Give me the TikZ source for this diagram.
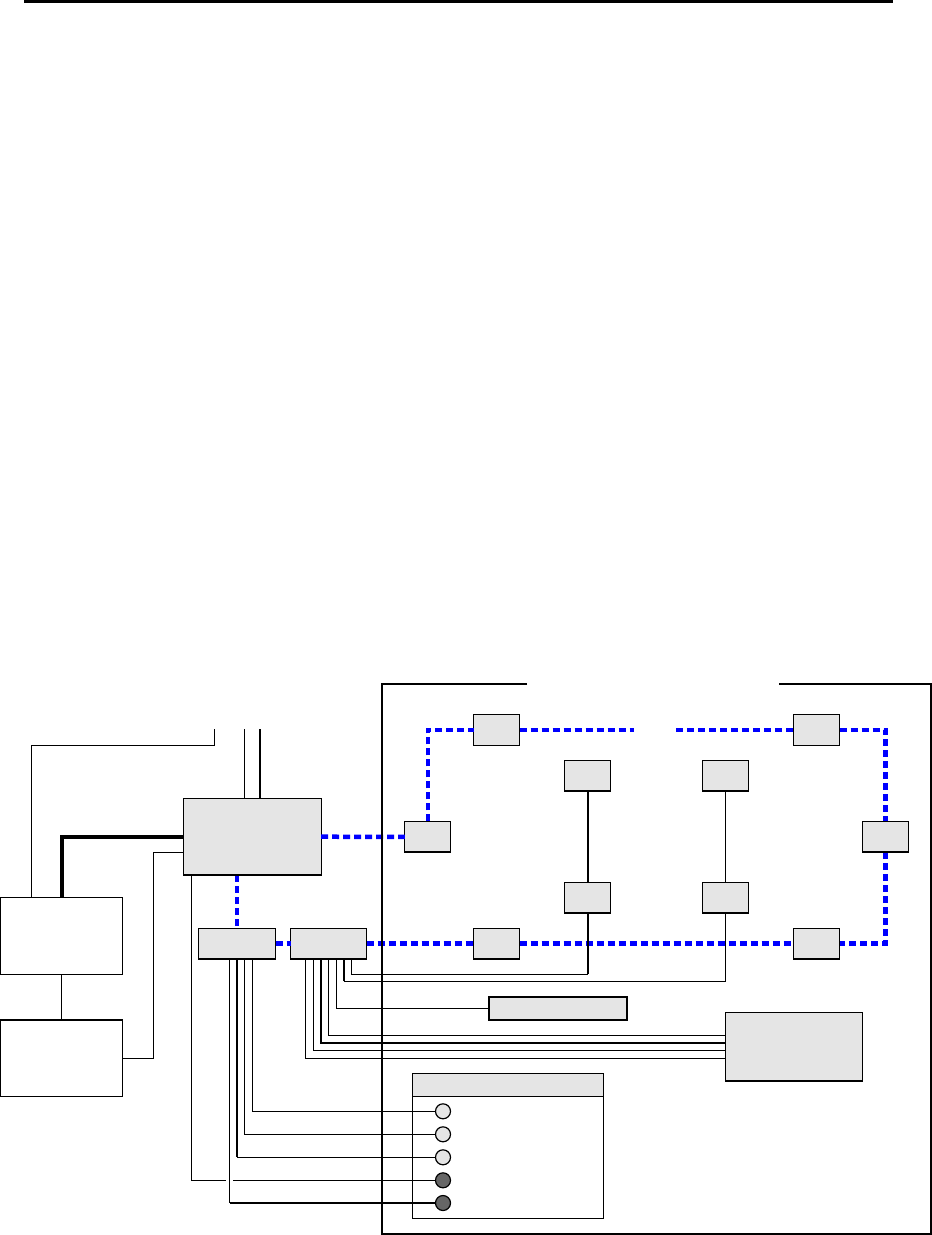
\documentclass[tikz,border=0pt]{standalone}
\usepackage{tikz}
\definecolor{busblue}{RGB}{0,0,255}
\begin{document}
\begin{tikzpicture}[x=1pt, y=-1pt, line join=miter,
    unit/.style={draw, fill=black!10, line width=1pt, inner sep=0pt, outer sep=0pt},
    hub/.style={unit, minimum width=46, minimum height=31},
    plain/.style={draw, line width=1pt, inner sep=0pt, outer sep=0pt, minimum width=122, minimum height=77},
    lamp/.style={circle, draw, line width=1.2pt, inner sep=0pt, outer sep=0pt, minimum size=15},
    wire/.style={line width=1pt},
    heavy/.style={line width=2pt},
    bus/.style={busblue, line width=4.5pt, dash pattern=on 7pt off 4pt}]
  \useasboundingbox (0,0) rectangle (932,1235);

  % ---------- page rule ----------
  \coordinate (ruleL) at (24,1.5);
  \coordinate (ruleR) at (893,1.5);
  \draw[line width=3pt] (ruleL) -- (ruleR);

  % ---------- outside the frame ----------
  \node[plain] (upper) at (61.5,935.8) {};
  \node[plain] (lower) at (61.5,1058.2) {};
  \node[unit, minimum width=138, minimum height=77] (main) at (252.2,836.7) {};
  \node[unit, minimum width=77, minimum height=31] (busA) at (237,943.7) {};
  \node[unit, minimum width=76, minimum height=31] (busB) at (328.5,943.7) {};

  % ---------- small hubs ----------
  \node[hub] (entry) at (427.8,836.9) {};
  \node[hub] (topL) at (496.5,729.8) {};
  \node[hub] (topR) at (816.5,729.8) {};
  \node[hub] (side) at (885.3,836.9) {};
  \node[hub] (botL) at (496.5,943.7) {};
  \node[hub] (botR) at (816.5,943.7) {};
  \node[hub] (upA) at (587.5,775.7) {};
  \node[hub] (upB) at (725.3,775.7) {};
  \node[hub] (dnA) at (587.5,897.7) {};
  \node[hub] (dnB) at (725.3,897.7) {};

  % ---------- bar, panel, legend ----------
  \node[unit, line width=2pt, minimum width=138, minimum height=23] (bar) at (557.7,1008.3) {};
  \node[unit, minimum width=137, minimum height=69] (panel) at (793.8,1046.8) {};
  \node[draw, line width=1pt, inner sep=0pt, outer sep=0pt, minimum width=191, minimum height=145] (legend) at (507.8,1145.8) {};
  \node[unit, minimum width=191, minimum height=23] (head) at (507.8,1084.8) {};

  \node[lamp, fill=black!10] (lampA) at (443,1111.3) {};
  \node[lamp, fill=black!10] (lampB) at (443,1134.3) {};
  \node[lamp, fill=black!10] (lampC) at (443,1157.3) {};
  \node[lamp, fill=black!60] (lampD) at (443,1180.3) {};
  \node[lamp, fill=black!60] (lampE) at (443,1203) {};

  % ---------- blue bus ----------
  \coordinate (gapL) at (634,729.8);
  \coordinate (gapR) at (676,729.8);
  \draw[bus] (main.east) -- (entry.west);
  \draw[bus] (main.south -| busA.north) -- (busA.north);
  \draw[bus] (busA.east) -- (busB.west);
  \draw[bus] (busB.east) -- (botL.west);
  \draw[bus] (botL.east) -- (botR.west);
  \draw[bus] (entry.north) |- (topL.west);
  \draw[bus] (topL.east) -- (gapL);
  \draw[bus] (gapR) -- (topR.west);
  \draw[bus] (topR.east) -| (side.north);
  \draw[bus] (side.south) |- (botR.east);

  % ---------- frame, with its opening on top ----------
  \coordinate (frameA) at (527,684);
  \coordinate (frameB) at (382,1233.8);
  \coordinate (frameC) at (931,684);
  \coordinate (frameD) at (779,684);
  \draw[line width=2pt] (frameA) -| (frameB) -| (frameC) -- (frameD);

  % ---------- left side ----------
  \coordinate (stubA) at (214.3,729.3);
  \coordinate (stubB) at (244.3,729.3);
  \coordinate (stubC) at (259.7,729.3);
  \coordinate (kneeA) at (153.7,852);
  \draw[wire] ([xshift=-29.8pt]upper.north) |- (stubA |- 0,745.3) -- (stubA);
  \draw[wire] (stubB) -- (stubB |- main.north);
  \draw[heavy] (stubC) -- (stubC |- main.north);
  \draw[line width=4pt] (upper.north) |- (main.west);
  \draw[wire] (upper.south) -- (lower.north);
  \draw[wire] (lower.east) -| (kneeA) -- (kneeA -| main.west);

  % ---------- busA to the lamps ----------
  \coordinate (jumpL) at (226,1180.3);
  \coordinate (jumpR) at (233,1180.3);
  \draw[wire] ([xshift=-60.6pt]main.south) |- (jumpL);
  \draw[wire] (jumpR) -- (lampD.west);
  \draw[wire] ([xshift=15.3pt]busA.south) |- (lampA.west);
  \draw[wire] ([xshift=7.7pt]busA.south) |- (lampB.west);
  \draw[heavy] (busA.south) -- (busA.south |- lampC.west);
  \draw[wire] (busA.south |- lampC.west) -- (lampC.west);
  \draw[wire] ([xshift=-7.3pt]busA.south) -- ([xshift=-7.3pt]busA.south |- lampE.west);
  \draw[heavy] ([xshift=-7.3pt]busA.south |- lampE.west) -- (lampE.west);

  % ---------- busB to panel, bar, hubs ----------
  \draw[wire] ([xshift=-22.8pt]busB.south) |- ([yshift=-11.5pt]panel.west);
  \draw[wire] ([xshift=-15.2pt]busB.south) |- ([yshift=-3.5pt]panel.west);
  \draw[heavy] ([xshift=-7.5pt]busB.south) |- ([yshift=3.8pt]panel.west);
  \draw[wire] ([xshift=0.2pt]busB.south) |- ([yshift=11.5pt]panel.west);
  \draw[wire] ([xshift=7.8pt]busB.south) |- (bar.west);
  \coordinate (elbowA) at (351.3,974.3);
  \coordinate (elbowB) at (343.7,981.3);
  \draw[wire] ([xshift=22.8pt]busB.south) -- (elbowA) -- (elbowA -| dnA.south);
  \draw[heavy] (elbowA -| dnA.south) -- (dnA.south);
  \draw[heavy] ([xshift=15.2pt]busB.south) -- (elbowB);
  \draw[wire] (elbowB) -| (dnB.south);
  \draw[heavy] (upA.south) -- (dnA.north);
  \draw[wire] (upB.south) -- (dnB.north);

  % heavier edges
  \foreach \n in {main,busA,busB,entry,side,botL,botR,upA,upB,dnA,dnB,panel}{
    \draw[heavy] (\n.south west) -- (\n.south east);
  }
  \draw[heavy] (lower.north west) -- (lower.north east);
\end{tikzpicture}
\end{document}
